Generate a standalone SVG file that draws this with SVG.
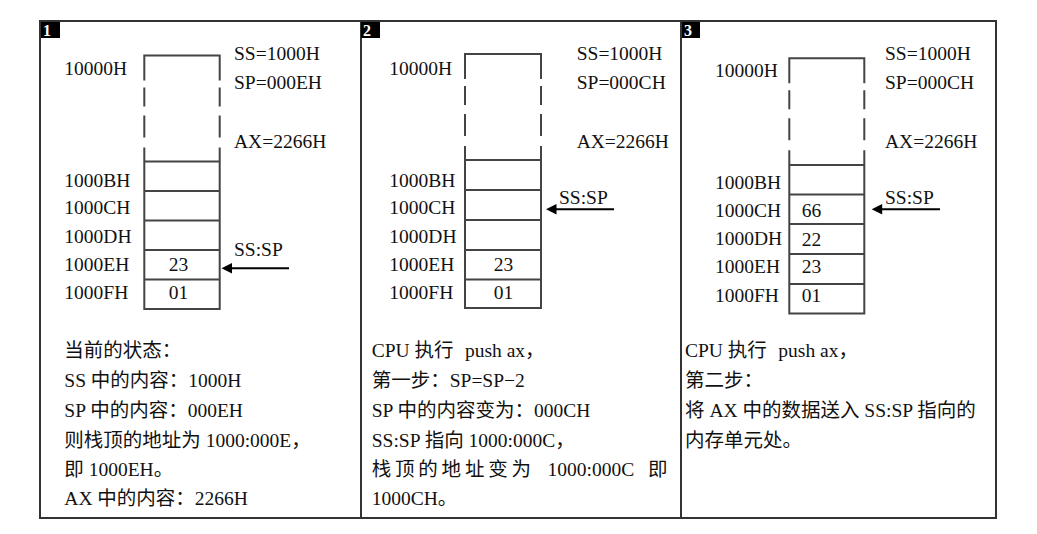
<svg xmlns="http://www.w3.org/2000/svg" width="1037" height="534" viewBox="0 0 1037 534">
<style>
text{font-family:"Liberation Serif","Noto Sans CJK SC",serif;font-size:19.5px;fill:#111;}
.frame{fill:#fff;stroke:#333;stroke-width:2;}
.tag{fill:#000;}
.tagt{fill:#fff;font-size:16px;font-weight:bold;}
.st{fill:none;stroke:#444;stroke-width:2;}
.arr{stroke:#000;stroke-width:2;}
.ah{fill:#000;}
.mid{text-anchor:middle;}
</style>
<rect width="1037" height="534" fill="#fff"/>
<g id="panel-1">
<rect class="frame" x="40" y="21" width="321" height="497"/>
<rect class="tag" x="41" y="22" width="19" height="16"/>
<text class="tagt" x="43" y="36">1</text>
<path class="st" d="M144.3,80.5V55.5H219.7V80.5M144.3,87.5V106.5M219.7,87.5V106.5M144.3,115.5V137.5M219.7,115.5V137.5M144.3,147.5V309H219.7V147.5M144.3,161.5H219.7M144.3,191H219.7M144.3,220.5H219.7M144.3,250H219.7M144.3,279.5H219.7"/>
<text x="64.3" y="75">10000H</text>
<text x="64.3" y="186.7">1000BH</text>
<text x="64.3" y="214.3">1000CH</text>
<text x="64.3" y="242.7">1000DH</text>
<text x="64.3" y="271">1000EH</text>
<text x="64.3" y="299">1000FH</text>
<text class="mid" x="178.5" y="271">23</text>
<text class="mid" x="178.5" y="299">01</text>
<text x="234" y="60">SS=1000H</text>
<text x="234" y="89">SP=000EH</text>
<text x="234" y="148.3">AX=2266H</text>
<text x="234" y="255.7">SS:SP</text>
<text x="64.3" y="357.3">当前的状态：</text>
<text x="64.3" y="386.7">SS 中的内容：1000H</text>
<text x="64.3" y="416.7">SP 中的内容：000EH</text>
<text x="64.3" y="446.7">则栈顶的地址为 1000:000E，</text>
<text x="64.3" y="476">即 1000EH。</text>
<text x="64.3" y="505">AX 中的内容：2266H</text>
</g>
<g id="panel-2">
<rect class="frame" x="361" y="21" width="320" height="497"/>
<rect class="tag" x="361" y="22" width="19" height="16"/>
<text class="tagt" x="363" y="36">2</text>
<path class="st" d="M465,79V54H541V79M465,86V105M541,86V105M465,114V136M541,114V136M465,146V308H541V146M465,160H541M465,190H541M465,220H541M465,250H541M465,279.5H541"/>
<text x="389.3" y="75">10000H</text>
<text x="389.3" y="186.7">1000BH</text>
<text x="389.3" y="214.3">1000CH</text>
<text x="389.3" y="242.7">1000DH</text>
<text x="389.3" y="271">1000EH</text>
<text x="389.3" y="299">1000FH</text>
<text class="mid" x="503.5" y="271">23</text>
<text class="mid" x="503.5" y="299">01</text>
<text x="576.7" y="60">SS=1000H</text>
<text x="576.7" y="89">SP=000CH</text>
<text x="576.7" y="148.3">AX=2266H</text>
<text x="559" y="204.3">SS:SP</text>
<text x="371.7" y="357.3">CPU 执行<tspan x="465">push ax，</tspan></text>
<text x="371.7" y="386.7">第一步：SP=SP−2</text>
<text x="371.7" y="416.7">SP 中的内容变为：000CH</text>
<text x="371.7" y="446.7">SS:SP 指向 1000:000C，</text>
<text y="476"><tspan x="371.7 395 418.3 441.6 464.9 488.2 511.5">栈顶的地址变为</tspan><tspan x="547.5">1000:000C</tspan><tspan x="648">即</tspan></text>
<text x="371.7" y="505">1000CH。</text>
</g>
<g id="panel-3">
<rect class="frame" x="681" y="21" width="315" height="497"/>
<rect class="tag" x="682" y="22" width="18" height="16"/>
<text class="tagt" x="684" y="36">3</text>
<path class="st" d="M789.3,83.3V58.3H864.3V83.3M789.3,90.3V109.3M864.3,90.3V109.3M789.3,118.3V140.3M864.3,118.3V140.3M789.3,150.3V313.5H864.3V150.3M789.3,165H864.3M789.3,194.5H864.3M789.3,224H864.3M789.3,254H864.3M789.3,284H864.3"/>
<text x="715" y="76.7">10000H</text>
<text x="715" y="189.3">1000BH</text>
<text x="715" y="216.7">1000CH</text>
<text x="715" y="245">1000DH</text>
<text x="715" y="273.3">1000EH</text>
<text x="715" y="301.7">1000FH</text>
<text x="801.7" y="217">66</text>
<text x="801.7" y="245.5">22</text>
<text x="801.7" y="273.3">23</text>
<text x="801.7" y="301.7">01</text>
<text x="885" y="60">SS=1000H</text>
<text x="885" y="89">SP=000CH</text>
<text x="885" y="148.3">AX=2266H</text>
<text x="885" y="203.5">SS:SP</text>
<text x="685" y="357.3">CPU 执行<tspan x="778.3">push ax，</tspan></text>
<text x="685" y="386.7">第二步：</text>
<text x="685" y="416.7">将 AX 中的数据送入 SS:SP 指向的</text>
<text x="685" y="446.7">内存单元处。</text>
</g>
<g id="connectors">
<line class="arr" x1="289" y1="268.3" x2="230" y2="268.3"/>
<polygon class="ah" points="221.5,268.3 232,263 232,273.6"/>
<line class="arr" x1="614" y1="209.3" x2="555" y2="209.3"/>
<polygon class="ah" points="546,209.3 556.5,204 556.5,214.6"/>
<line class="arr" x1="940" y1="209.3" x2="881" y2="209.3"/>
<polygon class="ah" points="871.7,209.3 882.2,204 882.2,214.6"/>
</g>
</svg>
